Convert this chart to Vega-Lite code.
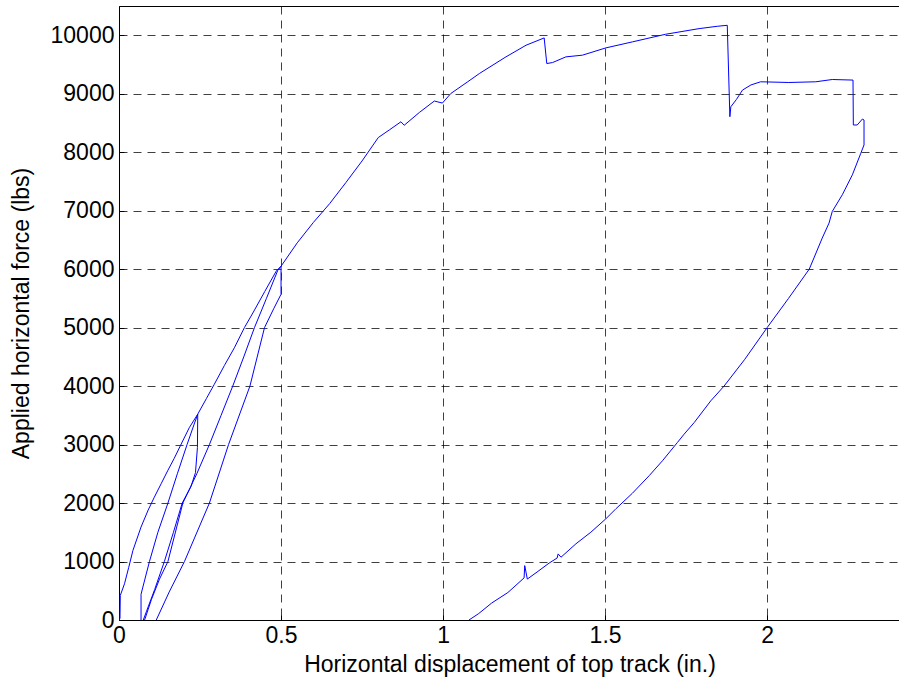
{
  "$schema": "https://vega.github.io/schema/vega-lite/v6.json",
  "width": 781,
  "height": 614,
  "autosize": {"type": "none"},
  "padding": {"left": 119, "top": 6, "right": 0, "bottom": 66},
  "background": "white",
  "data": {"values": [
    {"i":1,"d":0,"f":0},{"i":2,"d":0.003,"f":30},{"i":3,"d":0.004,"f":420},{"i":4,"d":0.017,"f":620},{"i":5,"d":0.03,"f":900},{"i":6,"d":0.043,"f":1190},{"i":7,"d":0.068,"f":1590},{"i":8,"d":0.09,"f":1880},{"i":9,"d":0.109,"f":2100},{"i":10,"d":0.13,"f":2330},{"i":11,"d":0.15,"f":2550},{"i":12,"d":0.17,"f":2760},{"i":13,"d":0.192,"f":3010},{"i":14,"d":0.217,"f":3290},{"i":15,"d":0.243,"f":3520},
    {"i":16,"d":0.242,"f":2950},{"i":17,"d":0.236,"f":2520},{"i":18,"d":0.222,"f":2280},{"i":19,"d":0.195,"f":2000},{"i":20,"d":0.168,"f":1500},{"i":21,"d":0.14,"f":1000},{"i":22,"d":0.11,"f":520},{"i":23,"d":0.085,"f":150},{"i":24,"d":0.075,"f":0},{"i":25,"d":0.07,"f":-300},
    {"i":26,"d":0.068,"f":-100},{"i":27,"d":0.068,"f":440},{"i":28,"d":0.08,"f":700},{"i":29,"d":0.094,"f":1000},{"i":30,"d":0.12,"f":1500},{"i":31,"d":0.151,"f":2000},{"i":32,"d":0.18,"f":2500},{"i":33,"d":0.21,"f":3000},{"i":34,"d":0.232,"f":3350},{"i":35,"d":0.243,"f":3520},
    {"i":36,"d":0.27,"f":3790},{"i":37,"d":0.294,"f":4030},{"i":38,"d":0.325,"f":4350},{"i":39,"d":0.356,"f":4655},{"i":40,"d":0.387,"f":5000},{"i":41,"d":0.413,"f":5250},{"i":42,"d":0.45,"f":5620},{"i":43,"d":0.485,"f":5965},{"i":44,"d":0.5,"f":6050},
    {"i":45,"d":0.5,"f":5570},{"i":46,"d":0.478,"f":5330},{"i":47,"d":0.449,"f":5000},{"i":48,"d":0.404,"f":4000},{"i":49,"d":0.338,"f":3000},{"i":50,"d":0.279,"f":2000},{"i":51,"d":0.202,"f":1000},{"i":52,"d":0.155,"f":480},{"i":53,"d":0.115,"f":0},{"i":54,"d":0.1,"f":-300},
    {"i":55,"d":0.079,"f":-100},{"i":56,"d":0.079,"f":0},{"i":57,"d":0.1,"f":350},{"i":58,"d":0.125,"f":700},{"i":59,"d":0.151,"f":1000},{"i":60,"d":0.197,"f":2000},{"i":61,"d":0.24,"f":2500},{"i":62,"d":0.279,"f":3000},{"i":63,"d":0.315,"f":3500},{"i":64,"d":0.351,"f":4000},{"i":65,"d":0.385,"f":4500},{"i":66,"d":0.418,"f":5000},{"i":67,"d":0.455,"f":5500},{"i":68,"d":0.49,"f":5980},{"i":69,"d":0.5,"f":6050},
    {"i":70,"d":0.55,"f":6450},{"i":71,"d":0.6,"f":6800},{"i":72,"d":0.65,"f":7120},{"i":73,"d":0.7,"f":7480},{"i":74,"d":0.75,"f":7850},{"i":75,"d":0.8,"f":8250},{"i":76,"d":0.834,"f":8380},{"i":77,"d":0.87,"f":8520},{"i":78,"d":0.88,"f":8460},{"i":79,"d":0.927,"f":8680},{"i":80,"d":0.973,"f":8875},{"i":81,"d":0.998,"f":8840},{"i":82,"d":1.024,"f":9004},{"i":83,"d":1.076,"f":9204},{"i":84,"d":1.112,"f":9345},{"i":85,"d":1.194,"f":9630},{"i":86,"d":1.256,"f":9829},{"i":87,"d":1.312,"f":9954},
    {"i":88,"d":1.32,"f":9516},{"i":89,"d":1.338,"f":9533},{"i":90,"d":1.379,"f":9630},{"i":91,"d":1.43,"f":9659},{"i":92,"d":1.502,"f":9783},{"i":93,"d":1.584,"f":9886},{"i":94,"d":1.687,"f":10017},{"i":95,"d":1.79,"f":10113},{"i":96,"d":1.846,"f":10153},{"i":97,"d":1.877,"f":10170},
    {"i":98,"d":1.885,"f":8607},{"i":99,"d":1.888,"f":8777},{"i":100,"d":1.905,"f":8900},{"i":101,"d":1.924,"f":9062},{"i":102,"d":1.95,"f":9150},{"i":103,"d":1.98,"f":9204},{"i":104,"d":2.067,"f":9192},{"i":105,"d":2.15,"f":9204},{"i":106,"d":2.201,"f":9243},{"i":107,"d":2.265,"f":9233},
    {"i":108,"d":2.266,"f":8465},{"i":109,"d":2.278,"f":8465},{"i":110,"d":2.294,"f":8567},{"i":111,"d":2.299,"f":8550},{"i":112,"d":2.299,"f":8124},{"i":113,"d":2.289,"f":7981},{"i":114,"d":2.263,"f":7613},{"i":115,"d":2.232,"f":7272},{"i":116,"d":2.201,"f":6987},{"i":117,"d":2.191,"f":6787},{"i":118,"d":2.17,"f":6531},{"i":119,"d":2.13,"f":6000},{"i":120,"d":2.066,"f":5500},{"i":121,"d":2.0,"f":5000},{"i":122,"d":1.93,"f":4450},{"i":123,"d":1.867,"f":4000},{"i":124,"d":1.826,"f":3747},{"i":125,"d":1.775,"f":3377},{"i":126,"d":1.744,"f":3179},{"i":127,"d":1.723,"f":3035},{"i":128,"d":1.677,"f":2723},{"i":129,"d":1.636,"f":2468},{"i":130,"d":1.584,"f":2166},{"i":131,"d":1.533,"f":1900},{"i":132,"d":1.502,"f":1729},{"i":133,"d":1.456,"f":1501},{"i":134,"d":1.41,"f":1303},{"i":135,"d":1.364,"f":1074},{"i":136,"d":1.355,"f":1130},{"i":137,"d":1.352,"f":1060},{"i":138,"d":1.327,"f":972},{"i":139,"d":1.29,"f":820},{"i":140,"d":1.26,"f":700},{"i":141,"d":1.252,"f":930},{"i":142,"d":1.25,"f":720},{"i":143,"d":1.2,"f":470},{"i":144,"d":1.15,"f":290},{"i":145,"d":1.11,"f":110},{"i":146,"d":1.08,"f":0},{"i":147,"d":1.06,"f":-200}
  ]},
  "mark": {"type": "line", "color": "#0000ff", "strokeWidth": 1, "clip": true},
  "encoding": {
    "order": {"field": "i", "type": "quantitative"},
    "x": {"field": "d", "type": "quantitative", "title": "Horizontal displacement of top track (in.)",
      "scale": {"domain": [0, 2.41], "nice": false, "zero": false},
      "axis": {"values": [0, 0.5, 1, 1.5, 2], "format": "~g", "labelFlush": false, "labelPadding": 9, "titlePadding": 6}},
    "y": {"field": "f", "type": "quantitative", "title": "Applied horizontal force (lbs)",
      "scale": {"domain": [0, 10500], "nice": false, "zero": false},
      "axis": {"values": [0,1000,2000,3000,4000,5000,6000,7000,8000,9000,10000], "format": "d", "labelFlush": false, "labelPadding": 10, "titlePadding": 17}}
  },
  "config": {
    "view": {"stroke": "black", "strokeWidth": 1},
    "axis": {
      "domainColor": "black", "domainWidth": 1,
      "tickColor": "black", "tickSize": -5,
      "grid": true, "gridColor": "black", "gridDash": [8, 6], "gridOpacity": 0.75, "gridWidth": 1,
      "labelFont": "Liberation Sans", "labelFontSize": 23, "labelColor": "black",
      "titleFont": "Liberation Sans", "titleFontSize": 23, "titleFontWeight": "normal", "titleColor": "black"
    }
  }
}
